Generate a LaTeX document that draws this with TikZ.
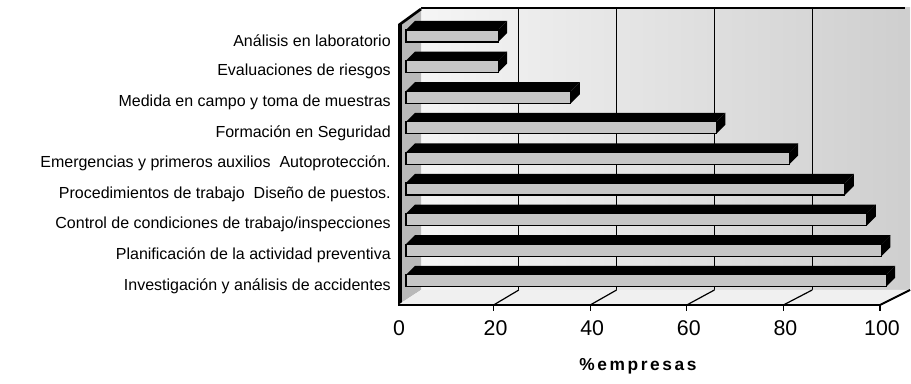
\documentclass[tikz,border=0pt]{standalone}
\usepackage{fontspec}
\setmainfont{Liberation Sans}
\begin{document}
\begin{tikzpicture}[x=0.75pt, y=-0.75pt, every node/.style={inner sep=0pt}]
  \def\xo{397}   % front zero
  \def\sc{4.83}  % front px per percent
  \def\xb{421}   % back zero
  \def\sb{4.89}  % back px per percent
  \def\xr{406}   % bar start
  \def\sr{4.85}  % bar px per percent
  \useasboundingbox (0,0) rectangle (911,384);

  % BACK WALL
  \shade [left color=gray!8, right color=gray!38] (\xb,8) rectangle (910,290);
  \foreach \v in {20,40,60,80}
    \draw [line width=0.6pt] ({\xb+\sb*\v},8) -- ({\xb+\sb*\v},290);
  \draw [line width=1.5pt] (\xb,8) -- (905,8);

  % LEFT WALL
  \fill [gray!55] (398,25) -- (\xb,8) -- (\xb,290) -- (398,305) -- cycle;
  \draw [line width=3pt] (400,24) -- (400,305);
  \draw [line width=2pt] (399,25) -- (\xb,9);

  % FLOOR
  \fill [gray!12] (398,305) -- ({\xo+\sc*100},305) -- ({\xb+\sb*100},290) -- (\xb,290) -- cycle;
  \foreach \v in {20,40,...,100}
    \draw [line width=0.9pt] ({\xo+\sc*\v},305) -- ({\xb+\sb*\v},290);
  \draw [line width=1.4pt] (398,305) -- ({\xo+\sc*100},305) -- ({\xb+\sb*100},290);

  % TICKS
  \foreach \v in {20,40,...,100}
    \draw [line width=0.8pt] ({\xo+\sc*\v},305) -- ({\xo+\sc*\v},311);

  % BARS
  \foreach \txt/\v [count=\i from 0] in {
      {Análisis en laboratorio}/19,
      {Evaluaciones de riesgos}/19,
      {Medida en campo y toma de muestras}/34,
      {Formación en Seguridad}/64,
      {Emergencias y primeros auxilios\ \ Autoprotección.}/79,
      {Procedimientos de trabajo\ \ Diseño de puestos.}/90.5,
      {Control de condiciones de trabajo/inspecciones}/95,
      {Planificación de la actividad preventiva}/98,
      {Investigación y análisis de accidentes}/99} {
    \pgfmathsetmacro\c{36+30.6*\i}
    \pgfmathsetmacro\e{\xr+\sr*\v}
    \filldraw [fill=gray!45, draw=black, line width=0.8pt] (\xr,\c-6) rectangle (\e,\c+6);
    \fill (\xr,\c-6) -- (\e,\c-6) -- (\e+9,\c-15) -- (\xr+9,\c-15) -- cycle;
    \fill (\e,\c-6) -- (\e+9,\c-15) -- (\e+9,\c-3) -- (\e,\c+6) -- cycle;
    \node [anchor=east, font=\fontsize{12}{14}\selectfont] (lab\i) at (391,\c+5) {\txt};
  }

  % AXIS LABELS
  \foreach \v in {0,20,...,100}
    \node [font=\fontsize{16}{18}\selectfont] (tick\v) at ({\xo+2+\sc*\v},328) {\v};
  \node [font=\bfseries\fontsize{13}{15}\selectfont] (title) at (638,366)
    {\addfontfeatures{LetterSpace=15}\%empresas};

\end{tikzpicture}
\end{document}
